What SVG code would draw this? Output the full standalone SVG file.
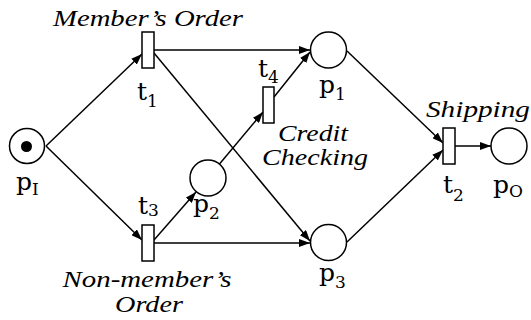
<svg xmlns="http://www.w3.org/2000/svg" width="531" height="320" viewBox="0 0 531 320">
<style>
.place{fill:#fff;stroke:#000;stroke-width:1.5}
.trans{fill:#fff;stroke:#000;stroke-width:1.5}
.arc{fill:none;stroke:#000;stroke-width:1.5}
.lbl{font-family:'DejaVu Serif',serif;font-size:25px;fill:#000}
.sub{font-size:17px}
.it{font-family:'Liberation Serif','Times New Roman',serif;font-style:italic;font-size:23px;fill:#000}
</style>
<defs>
<marker id="ah" markerUnits="userSpaceOnUse" markerWidth="11" markerHeight="8" refX="11" refY="4" orient="auto">
<path d="M0,0 L11,4 L0,8 z" fill="#000"/>
</marker>
</defs>
<g id="connectors">
<line class="arc" x1="46" y1="146" x2="142" y2="54" marker-end="url(#ah)"/>
<line class="arc" x1="46" y1="146" x2="142" y2="240" marker-end="url(#ah)"/>
<line class="arc" x1="154" y1="50" x2="310" y2="50" marker-end="url(#ah)"/>
<line class="arc" x1="154" y1="53" x2="310" y2="241" marker-end="url(#ah)"/>
<line class="arc" x1="154" y1="243" x2="310" y2="243" marker-end="url(#ah)"/>
<line class="arc" x1="154" y1="240" x2="196" y2="192" marker-end="url(#ah)"/>
<line class="arc" x1="219.5" y1="164" x2="263" y2="112" marker-end="url(#ah)"/>
<line class="arc" x1="274" y1="97" x2="310" y2="52" marker-end="url(#ah)"/>
<line class="arc" x1="347" y1="51" x2="443" y2="143" marker-end="url(#ah)"/>
<line class="arc" x1="347" y1="242" x2="443" y2="150" marker-end="url(#ah)"/>
<line class="arc" x1="455" y1="146" x2="491" y2="146" marker-end="url(#ah)"/>
</g>
<g id="pI">
<circle class="place" cx="27" cy="146" r="17.5"/>
<circle cx="26.5" cy="146.5" r="5.5" fill="#000"/>
<text class="lbl" x="16" y="190">p<tspan class="sub" dy="5">I</tspan></text>
</g>
<g id="t1">
<rect class="trans" x="142" y="32" width="12" height="36"/>
<text class="lbl" x="137" y="100">t<tspan class="sub" dy="7">1</tspan></text>
<text class="it" x="148" y="26" text-anchor="middle" textLength="190" lengthAdjust="spacingAndGlyphs">Member’s Order</text>
</g>
<g id="t3">
<rect class="trans" x="142" y="225" width="12" height="36"/>
<text class="lbl" x="138" y="214">t<tspan class="sub" dy="2">3</tspan></text>
<text class="it" x="147" y="287" text-anchor="middle" textLength="169" lengthAdjust="spacingAndGlyphs">Non-member’s</text>
<text class="it" x="149" y="312" text-anchor="middle" textLength="68" lengthAdjust="spacingAndGlyphs">Order</text>
</g>
<g id="p2">
<circle class="place" cx="208" cy="178" r="18"/>
<text class="lbl" x="193" y="212">p<tspan class="sub" dy="7">2</tspan></text>
</g>
<g id="t4">
<rect class="trans" x="263" y="87" width="11" height="36"/>
<text class="lbl" x="258" y="77">t<tspan class="sub" dy="6">4</tspan></text>
<text class="it" x="313" y="141" text-anchor="middle" textLength="70" lengthAdjust="spacingAndGlyphs">Credit</text>
<text class="it" x="315" y="165" text-anchor="middle" textLength="106" lengthAdjust="spacingAndGlyphs">Checking</text>
</g>
<g id="p1">
<circle class="place" cx="328.5" cy="50" r="18"/>
<text class="lbl" x="319" y="93">p<tspan class="sub" dy="7">1</tspan></text>
</g>
<g id="p3">
<circle class="place" cx="328.5" cy="242.5" r="18"/>
<text class="lbl" x="319" y="281">p<tspan class="sub" dy="7">3</tspan></text>
</g>
<g id="t2">
<rect class="trans" x="443" y="128" width="12" height="36"/>
<text class="lbl" x="443" y="193">t<tspan class="sub" dy="8">2</tspan></text>
<text class="it" x="478" y="117" text-anchor="middle" textLength="104" lengthAdjust="spacingAndGlyphs">Shipping</text>
</g>
<g id="pO">
<circle class="place" cx="509" cy="146" r="18"/>
<text class="lbl" x="493" y="193">p<tspan class="sub" dy="4">O</tspan></text>
</g>
</svg>
